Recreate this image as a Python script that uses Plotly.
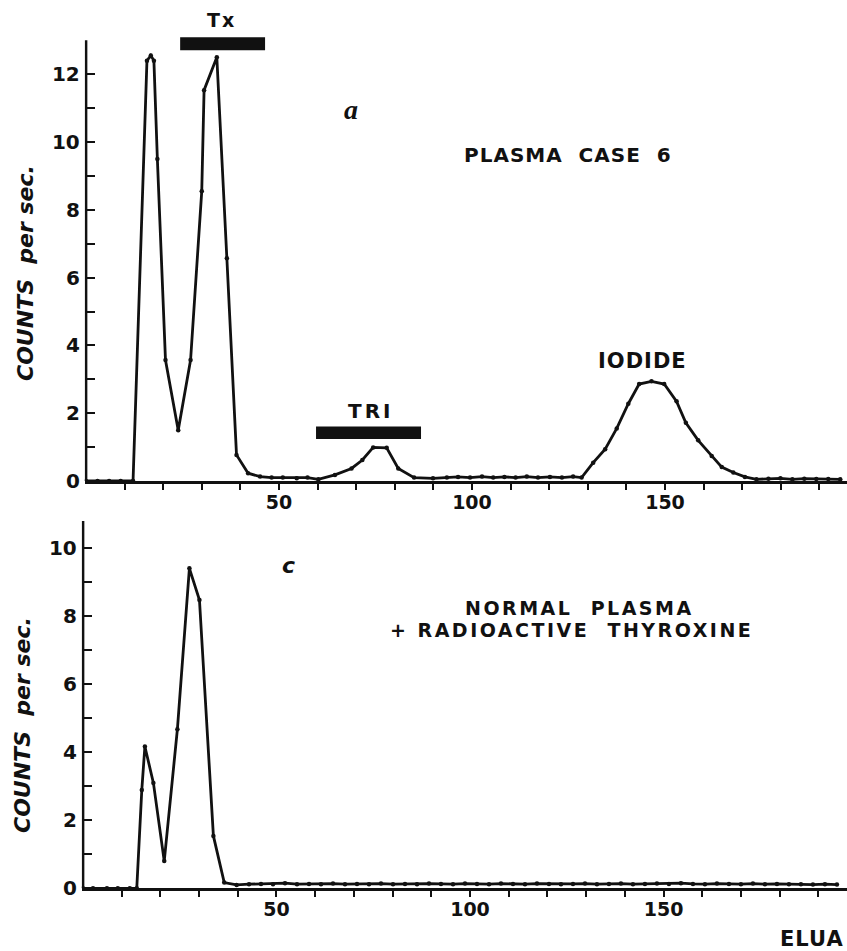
import plotly.graph_objects as go

# ---------------- data ----------------
# Panel a: plasma case 6 (x = eluate volume, y = counts per sec.)
top_x = [0, 3, 6, 9, 12.2, 15.8, 16.8, 17.6, 18.5, 20.6, 23.9, 27.1, 30.0, 30.6, 33.9,
         36.5, 39.0, 42.0, 45.1, 48.1, 51.0, 54.6, 57.4, 60.2, 64.5, 68.8, 71.6, 74.4,
         77.9, 80.9, 85.0, 89.9, 93.5, 96.4, 99.5, 102.6, 105.5, 108.4, 111.3, 114.2,
         117.1, 120.2, 123.3, 126.2, 128.4, 131.4, 134.5, 137.5, 140.5, 143.3, 146.5,
         149.8, 153.0, 155.4, 158.6, 162.1, 164.7, 167.7, 170.7, 173.7, 176.8, 179.9,
         183.0, 186.1, 189.2, 192.3, 195.4]
top_y = [0, 0, 0, 0, 0, 12.4, 12.55, 12.4, 9.5, 3.57, 1.5, 3.57, 8.55, 11.53, 12.5,
         6.57, 0.77, 0.23, 0.13, 0.1, 0.1, 0.08, 0.1, 0.05, 0.18, 0.37, 0.62, 0.99,
         0.98, 0.37, 0.1, 0.08, 0.1, 0.12, 0.1, 0.13, 0.1, 0.12, 0.1, 0.13,
         0.1, 0.12, 0.1, 0.13, 0.1, 0.54, 0.94, 1.55, 2.28, 2.86, 2.94,
         2.86, 2.35, 1.72, 1.2, 0.74, 0.41, 0.25, 0.12, 0.05, 0.07, 0.08,
         0.05, 0.07, 0.06, 0.06, 0.05]

# Panel c: normal plasma + radioactive thyroxine
bot_x = [0, 2.6, 6.2, 9.0, 12.1, 13.9, 15.2, 16.0, 18.2, 21.0, 24.4, 27.5, 30.1, 33.7,
         36.5, 39.7, 42.9, 46.0, 49.1, 52.2, 55.3, 58.4, 61.5, 64.6, 67.7, 70.8, 73.9,
         77.0, 80.1, 83.2, 86.3, 89.4, 92.5, 95.6, 98.7, 101.8, 104.9, 108.0, 111.1,
         114.2, 117.3, 120.4, 123.5, 126.6, 129.7, 132.8, 135.9, 139.0, 142.1, 145.2,
         148.3, 151.4, 154.5, 157.6, 160.7, 163.8, 166.9, 170.0, 173.1, 176.2, 179.3,
         182.4, 185.5, 188.6, 191.7, 194.8]
bot_y = [0, 0, 0, 0, 0, 0, 2.89, 4.17, 3.1, 0.8, 4.68, 9.41, 8.48, 1.54,
         0.17, 0.1, 0.12, 0.13, 0.12, 0.15, 0.12, 0.13, 0.12, 0.14, 0.12, 0.13, 0.12,
         0.14, 0.12, 0.13, 0.12, 0.14, 0.13, 0.12, 0.14, 0.13, 0.12, 0.14, 0.13,
         0.12, 0.14, 0.13, 0.12, 0.13, 0.14, 0.12, 0.13, 0.14, 0.12, 0.13,
         0.14, 0.13, 0.15, 0.13, 0.12, 0.14, 0.13, 0.12, 0.14, 0.12, 0.13,
         0.12, 0.12, 0.11, 0.12, 0.11]

# fraction bars (x start, x end, y low, y high)
tx_bar = [24.4, 46.4, 12.71, 13.09]
tri_bar = [59.6, 86.8, 1.24, 1.61]

# axes
top_y_ticks = list(range(0, 13))
top_y_labels = ["0", "", "2", "", "4", "", "6", "", "8", "", "10", "", "12"]
bot_y_ticks = list(range(0, 11))
bot_y_labels = ["0", "", "2", "", "4", "", "6", "", "8", "", "10"]
x_label_vals = [50, 100, 150]
x_label_text = ["50", "100", "150"]
x_minor_ticks = [10, 20, 30, 40, 50, 60, 70, 80, 90, 100, 110, 120, 130, 140, 150, 160, 170, 180, 190]
top_axis_top = 13.0
bot_axis_top = 10.8

# ---------------- figure ----------------
W, H = 847, 951
FONT = "DejaVu Sans"
BLACK = "#111111"

fig = go.Figure()

def add_curve(xs, ys, xa, ya):
    fig.add_trace(go.Scatter(x=xs, y=ys, xaxis=xa, yaxis=ya, mode="lines+markers",
                             line=dict(color=BLACK, width=2.8),
                             marker=dict(color=BLACK, size=4.5),
                             showlegend=False, hoverinfo="skip"))

def add_yline(top, xa, ya):
    fig.add_trace(go.Scatter(x=[0, 0], y=[0, top], xaxis=xa, yaxis=ya, mode="lines",
                             line=dict(color=BLACK, width=2.8),
                             showlegend=False, hoverinfo="skip"))

add_curve(top_x, top_y, "x", "y")
add_yline(top_axis_top, "x", "y")
add_curve(bot_x, bot_y, "x2", "y2")
add_yline(bot_axis_top, "x2", "y2")

for bar, xr, yr in [(tx_bar, "x", "y"), (tri_bar, "x", "y")]:
    fig.add_shape(type="rect", xref=xr, yref=yr, x0=bar[0], x1=bar[1], y0=bar[2], y1=bar[3],
                  fillcolor=BLACK, line=dict(width=0))

xaxis_common = dict(showgrid=False, zeroline=False, showline=True, linecolor=BLACK,
                    linewidth=2.5, ticks="", tickvals=x_label_vals, ticktext=x_label_text,
                    automargin=False, ticklabelstandoff=2,
                    minor=dict(tickmode="array", tickvals=x_minor_ticks, ticks="outside",
                               ticklen=6, tickwidth=2, tickcolor=BLACK, showgrid=False),
                    tickfont=dict(family=FONT, size=19, color=BLACK, weight="bold"))
yaxis_common = dict(showgrid=False, zeroline=False, showline=False, ticks="inside",
                    ticklen=10, tickwidth=2, tickcolor=BLACK, automargin=False,
                    tickfont=dict(family=FONT, size=20, color=BLACK, weight="bold"),
                    ticklabelstandoff=4)

fig.update_layout(
    width=W, height=H, margin=dict(l=0, r=0, t=0, b=0, pad=0, autoexpand=False),
    autosize=False,
    paper_bgcolor="white", plot_bgcolor="white", showlegend=False,
    xaxis=dict(domain=[84.8 / W, 1], range=[-0.3, 197.15], anchor="y", **xaxis_common),
    yaxis=dict(domain=[1 - 481 / H, 1 - 6.4 / H], range=[0, 14.0], anchor="x",
               tickvals=top_y_ticks, ticktext=top_y_labels, **yaxis_common),
    xaxis2=dict(domain=[81.8 / W, 1], range=[-0.3, 197.4], anchor="y2", **xaxis_common),
    yaxis2=dict(domain=[1 - 888.3 / H, 1 - 497.3 / H], range=[0, 11.5], anchor="x2",
                tickvals=bot_y_ticks, ticktext=bot_y_labels, **yaxis_common),
)

def note(text, x, y, xr, yr, size, style="normal", family=FONT, xanchor="center",
         angle=0, spacing=0):
    if spacing:
        text = '<span style="letter-spacing:%spx">%s</span>' % (spacing, text)
    fig.add_annotation(text=text, x=x, y=y, xref=xr, yref=yr, showarrow=False,
                       xanchor=xanchor, yanchor="middle", textangle=angle,
                       font=dict(family=family, size=size, color=BLACK, weight="bold", style=style))

note("Tx", 35.2, 13.6, "x", "y", 19, spacing=2)
note("a", 68.7, 10.97, "x", "y", 28, style="italic", family="Liberation Serif")
note("PLASMA&nbsp;&nbsp;CASE&nbsp;&nbsp;6", 124.9, 9.63, "x", "y", 20, spacing=1)
note("TRI", 73.6, 2.06, "x", "y", 20, spacing=3)
note("IODIDE", 144.3, 3.54, "x", "y", 21, spacing=1)
note("c", 53.2, 9.48, "x2", "y2", 22, style="italic")
note("NORMAL&nbsp;&nbsp;PLASMA", 128.2, 8.24, "x2", "y2", 19, spacing=2.5)
note("+ RADIOACTIVE&nbsp;&nbsp;THYROXINE", 126.1, 7.6, "x2", "y2", 19, spacing=2.5)
note("COUNTS&nbsp; per sec.", 25 / W, 1 - 273 / H, "paper", "paper", 22, style="italic", angle=-90)
note("COUNTS&nbsp; per sec.", 22 / W, 1 - 725 / H, "paper", "paper", 22, style="italic", angle=-90)
note("ELUA", 778 / W, 1 - 939 / H, "paper", "paper", 21, xanchor="left", spacing=1)

fig.write_html("out.html", config={"displayModeBar": False, "responsive": False},
               post_script="document.body.style.margin='0';document.body.style.overflow='hidden';")
